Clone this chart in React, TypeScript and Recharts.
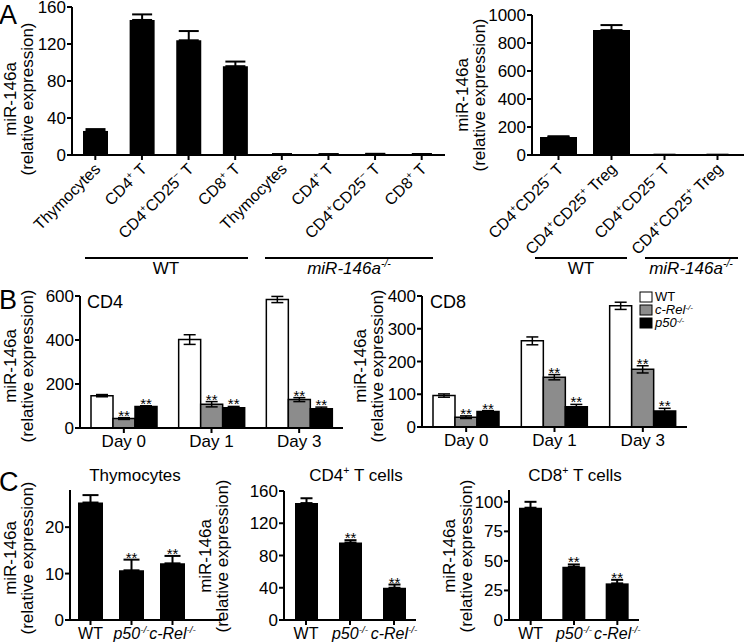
import React from "react";
import { BarChart, Bar, XAxis, YAxis, ErrorBar } from "recharts";

const FONT = "'Liberation Sans', Arial, Helvetica, sans-serif";
const FS = 17;
const ROT_FS = 16;

// Panel A, left: cell types, WT then miR-146a-/-
const aCells = ["Thymocytes", "CD4^{+} T", "CD4^{+}CD25^{−} T", "CD8^{+} T", "Thymocytes", "CD4^{+} T", "CD4^{+}CD25^{−} T", "CD8^{+} T"];
const aMean = [26, 146, 124, 96, 0.6, 0.6, 0.8, 0.7];
const aErr = [2, 6, 10, 5, 0.4, 0.4, 0.5, 0.4];
const aTicks = [0, 40, 80, 120, 160];

// Panel A, right: Treg comparison
const tregCells = ["CD4^{+}CD25^{−} T", "CD4^{+}CD25^{+} Treg", "CD4^{+}CD25^{−} T", "CD4^{+}CD25^{+} Treg"];
const tregMean = [128, 892, 1, 1];
const tregErr = [6, 36, 0.5, 0.5];
const tregTicks = [0, 200, 400, 600, 800, 1000];

// Panel B: activation time course
const days = ["Day 0", "Day 1", "Day 3"];
const genotypes = ["WT", "c-Rel^{-/-}", "p50^{-/-}"];
const genoFill = ["#ffffff", "#8c8c8c", "#000000"];

const cd4Wt = [147, 402, 584];
const cd4WtErr = [5, 22, 14];
const cd4Rel = [43, 108, 129];
const cd4RelErr = [4, 12, 9];
const cd4P50 = [98, 92, 88];
const cd4P50Err = [3, 6, 7];
const cd4Ticks = [0, 200, 400, 600];

const cd8Wt = [96, 263, 370];
const cd8WtErr = [5, 12, 11];
const cd8Rel = [30, 152, 176];
const cd8RelErr = [4, 8, 11];
const cd8P50 = [47, 62, 49];
const cd8P50Err = [3, 7, 8];
const cd8Ticks = [0, 100, 200, 300, 400];

// Panel C: knockouts
const cGeno = ["WT", "p50^{-/-}", "c-Rel^{-/-}"];
const thyMean = [25.3, 10.7, 12.2];
const thyErr = [1.6, 2.3, 1.6];
const thyTicks = [0, 10, 20];
const cd4cMean = [145, 96, 40];
const cd4cErr = [6, 3, 4];
const cd4cTicks = [0, 40, 80, 120, 160];
const cd8cMean = [95, 45, 31];
const cd8cErr = [5, 2, 3];
const cd8cTicks = [0, 25, 50, 75, 100];
const cStars = [false, true, true];

function rich(label: string, fs: number, rise = 0.4) {
  const parts = label.split(/\^\{(.*?)\}/);
  const out: React.ReactNode[] = [];
  let up = false;
  parts.forEach((s, i) => {
    if (!s) return;
    if (i % 2 === 1) {
      out.push(<tspan key={i} fontSize={fs * 0.62} dy={up ? 0 : -fs * rise}>{s}</tspan>);
      up = true;
    } else {
      out.push(<tspan key={i} fontSize={fs} dy={up ? fs * rise : 0}>{s}</tspan>);
      up = false;
    }
  });
  return out;
}

const axisStyle = { stroke: "#000", strokeWidth: 2 };

function RotTick(p: any) {
  return (
    <g transform={`translate(${p.x},${p.y})`}>
      <text transform="translate(6,8) rotate(-45)" textAnchor="end" fill="#000" fontFamily={FONT} fontSize={ROT_FS}>
        {rich(p.payload.value, ROT_FS)}
      </text>
    </g>
  );
}

function FlatTick(p: any) {
  const v: string = p.payload.value;
  const fs = p.fs ?? FS;
  return (
    <text x={p.x} y={p.y + 12} textAnchor="middle" fill="#000" fontFamily={FONT} fontSize={fs}
      fontStyle={v === "WT" || v.startsWith("Day") ? "normal" : "italic"}>
      {rich(v, fs)}
    </text>
  );
}

function starLabel(show: boolean[], errs: number[]) {
  return (p: any) => {
    const i = p.index;
    if (i == null || !show[i] || !p.value) return null;
    const pxPer = p.height / p.value;
    const capY = p.y - errs[i] * pxPer;
    return (
      <text x={p.x + p.width / 2} y={capY + 3} textAnchor="middle" fontSize={15} fontFamily={FONT} fill="#000">
        **
      </text>
    );
  };
}

type SimpleProps = {
  left: number; top: number; width: number; height: number;
  mTop: number; yW: number; mRight: number; xH: number;
  cats: string[]; mean: number[]; err: number[];
  domain: [number, number]; ticks: number[];
  barSize: number; capW: number; rotated?: boolean;
  stars?: boolean[]; padRight?: number;
};

function SimpleBars(props: SimpleProps) {
  const rows = props.cats.map((c, i) => ({ name: c, v: props.mean[i], e: [0, props.err[i]] }));
  return (
    <div style={{ position: "absolute", left: props.left, top: props.top, width: props.width, height: props.height }}>
      <BarChart width={props.width} height={props.height} data={rows} style={{ overflow: "visible" }}
        margin={{ top: props.mTop, right: props.mRight, left: 0, bottom: 0 }}>
        <XAxis
          dataKey="name"
          height={props.xH}
          interval={0}
          axisLine={axisStyle}
          tickLine={axisStyle}
          tickSize={5}
          padding={{ left: 0, right: props.padRight ?? 0 }}
          tick={(p: any) => (props.rotated ? <RotTick {...p} /> : <FlatTick {...p} fs={16} />)}
        />
        <YAxis
          width={props.yW}
          domain={props.domain}
          ticks={props.ticks}
          interval={0}
          axisLine={axisStyle}
          tickLine={axisStyle}
          tickSize={5}
          tickMargin={1}
          tick={{ fill: "#000", fontSize: FS, fontFamily: FONT }}
        />
        <Bar dataKey="v" fill="#000" barSize={props.barSize} isAnimationActive={false}
          label={props.stars ? starLabel(props.stars, props.err) : false}>
          <ErrorBar dataKey="e" width={props.capW} stroke="#000" strokeWidth={2} isAnimationActive={false} />
        </Bar>
      </BarChart>
    </div>
  );
}

type GroupProps = {
  left: number; top: number; width: number; height: number;
  mTop: number; yW: number; mRight: number; xH: number;
  means: number[][]; errs: number[][]; ticks: number[];
};

function GroupBars(props: GroupProps) {
  const rows = days.map((d, i) => {
    const r: any = { day: d };
    props.means.forEach((m, g) => {
      r["g" + g] = m[i];
      r["e" + g] = props.errs[g][i];
    });
    return r;
  });
  const stars = [true, true, true];
  return (
    <div style={{ position: "absolute", left: props.left, top: props.top, width: props.width, height: props.height }}>
      <BarChart width={props.width} height={props.height} data={rows} barGap={0} style={{ overflow: "visible" }}
        margin={{ top: props.mTop, right: props.mRight, left: 0, bottom: 0 }}>
        <XAxis dataKey="day" height={props.xH} interval={0} axisLine={axisStyle} tickLine={axisStyle} tickSize={5}
          tick={(p: any) => <FlatTick {...p} />} />
        <YAxis width={props.yW} domain={[props.ticks[0], props.ticks[props.ticks.length - 1]]} ticks={props.ticks}
          interval={0} axisLine={axisStyle} tickLine={axisStyle} tickSize={5} tickMargin={1}
          tick={{ fill: "#000", fontSize: FS, fontFamily: FONT }} />
        {props.means.map((_, g) => (
          <Bar key={g} dataKey={"g" + g} fill={genoFill[g]} stroke="#000" strokeWidth={1.5} barSize={22}
            isAnimationActive={false} label={g > 0 ? starLabel(stars, props.errs[g]) : false}>
            <ErrorBar dataKey={"e" + g} width={6} stroke="#000" strokeWidth={1.5} isAnimationActive={false} />
          </Bar>
        ))}
      </BarChart>
    </div>
  );
}

function YLabel({ x1, x2, cy }: { x1: number; x2: number; cy: number }) {
  return (
    <g>
      <text transform={`translate(${x1},${cy}) rotate(-90)`} textAnchor="middle">miR-146a</text>
      <text transform={`translate(${x2},${cy}) rotate(-90)`} textAnchor="middle">(relative expression)</text>
    </g>
  );
}

function Overlay() {
  return (
    <svg width={744} height={644} style={{ position: "absolute", left: 0, top: 0, pointerEvents: "none" }}
      fontFamily={FONT} fontSize={FS} fill="#000">
      <text x={-1} y={24} fontSize={27}>A</text>
      <text x={-1} y={309} fontSize={27}>B</text>
      <text x={-1} y={491} fontSize={27}>C</text>

      <YLabel x1={16} x2={33} cy={99} />
      <YLabel x1={468} x2={485} cy={95} />
      <YLabel x1={16} x2={33} cy={366} />
      <YLabel x1={366} x2={383} cy={366} />
      <YLabel x1={16} x2={33} cy={558} />
      <YLabel x1={211} x2={228} cy={556} />
      <YLabel x1={455} x2={472} cy={556} />

      <line x1={85} x2={248} y1={258} y2={258} stroke="#000" strokeWidth={2} />
      <text x={166} y={274} textAnchor="middle">WT</text>
      <line x1={265} x2={433} y1={258} y2={258} stroke="#000" strokeWidth={2} />
      <text x={349} y={274} textAnchor="middle" fontStyle="italic">{rich("miR-146a^{-/-}", FS)}</text>
      <line x1={535} x2={627} y1={258} y2={258} stroke="#000" strokeWidth={2} />
      <text x={581} y={274} textAnchor="middle">WT</text>
      <line x1={645} x2={738} y1={258} y2={258} stroke="#000" strokeWidth={2} />
      <text x={691} y={274} textAnchor="middle" fontStyle="italic">{rich("miR-146a^{-/-}", FS)}</text>

      <text x={87} y={308} fontSize={18}>CD4</text>
      <text x={430} y={308} fontSize={18}>CD8</text>

      {genotypes.map((g, i) => (
        <g key={g}>
          <rect x={640} y={292 + i * 13} width={12} height={10} fill={genoFill[i]} stroke="#000" strokeWidth={1} />
          <text x={655} y={301 + i * 13} fontSize={13} fontStyle={i === 0 ? "normal" : "italic"}>{rich(g, 13, 0.3)}</text>
        </g>
      ))}

      <text x={135} y={481} textAnchor="middle">Thymocytes</text>
      <text x={356} y={481} textAnchor="middle">{rich("CD4^{+} T cells", FS)}</text>
      <text x={575} y={481} textAnchor="middle">{rich("CD8^{+} T cells", FS)}</text>
    </svg>
  );
}

export default function App() {
  return (
    <div style={{ position: "absolute", left: 0, top: 0, width: 744, height: 644, background: "#fff", fontFamily: FONT }}>
      <SimpleBars left={0} top={0} width={450} height={330} mTop={7} yW={72} mRight={5} xH={175}
        cats={aCells} mean={aMean} err={aErr} domain={[0, 160]} ticks={aTicks} barSize={25} capW={10} rotated />
      <SimpleBars left={380} top={0} width={364} height={330} mTop={15} yW={152} mRight={0} xH={175}
        cats={tregCells} mean={tregMean} err={tregErr} domain={[0, 1000]} ticks={tregTicks} barSize={37} capW={11} rotated />

      <GroupBars left={0} top={280} width={360} height={180} mTop={16} yW={80} mRight={17} xH={32}
        means={[cd4Wt, cd4Rel, cd4P50]} errs={[cd4WtErr, cd4RelErr, cd4P50Err]} ticks={cd4Ticks} />
      <GroupBars left={380} top={280} width={320} height={180} mTop={16} yW={42} mRight={13} xH={33}
        means={[cd8Wt, cd8Rel, cd8P50]} errs={[cd8WtErr, cd8RelErr, cd8P50Err]} ticks={cd8Ticks} />

      <SimpleBars left={0} top={470} width={240} height={174} mTop={20} yW={70} mRight={18} xH={24}
        cats={cGeno} mean={thyMean} err={thyErr} domain={[0, 28]} ticks={thyTicks} barSize={25} capW={8}
        stars={cStars} padRight={29} />
      <SimpleBars left={250} top={470} width={180} height={174} mTop={21} yW={34} mRight={14} xH={24}
        cats={cGeno} mean={cd4cMean} err={cd4cErr} domain={[0, 160]} ticks={cd4cTicks} barSize={23} capW={6}
        stars={cStars} />
      <SimpleBars left={440} top={470} width={214} height={174} mTop={20} yW={69} mRight={15} xH={24}
        cats={cGeno} mean={cd8cMean} err={cd8cErr} domain={[0, 110]} ticks={cd8cTicks} barSize={23} capW={6}
        stars={cStars} />

      <Overlay />
    </div>
  );
}
